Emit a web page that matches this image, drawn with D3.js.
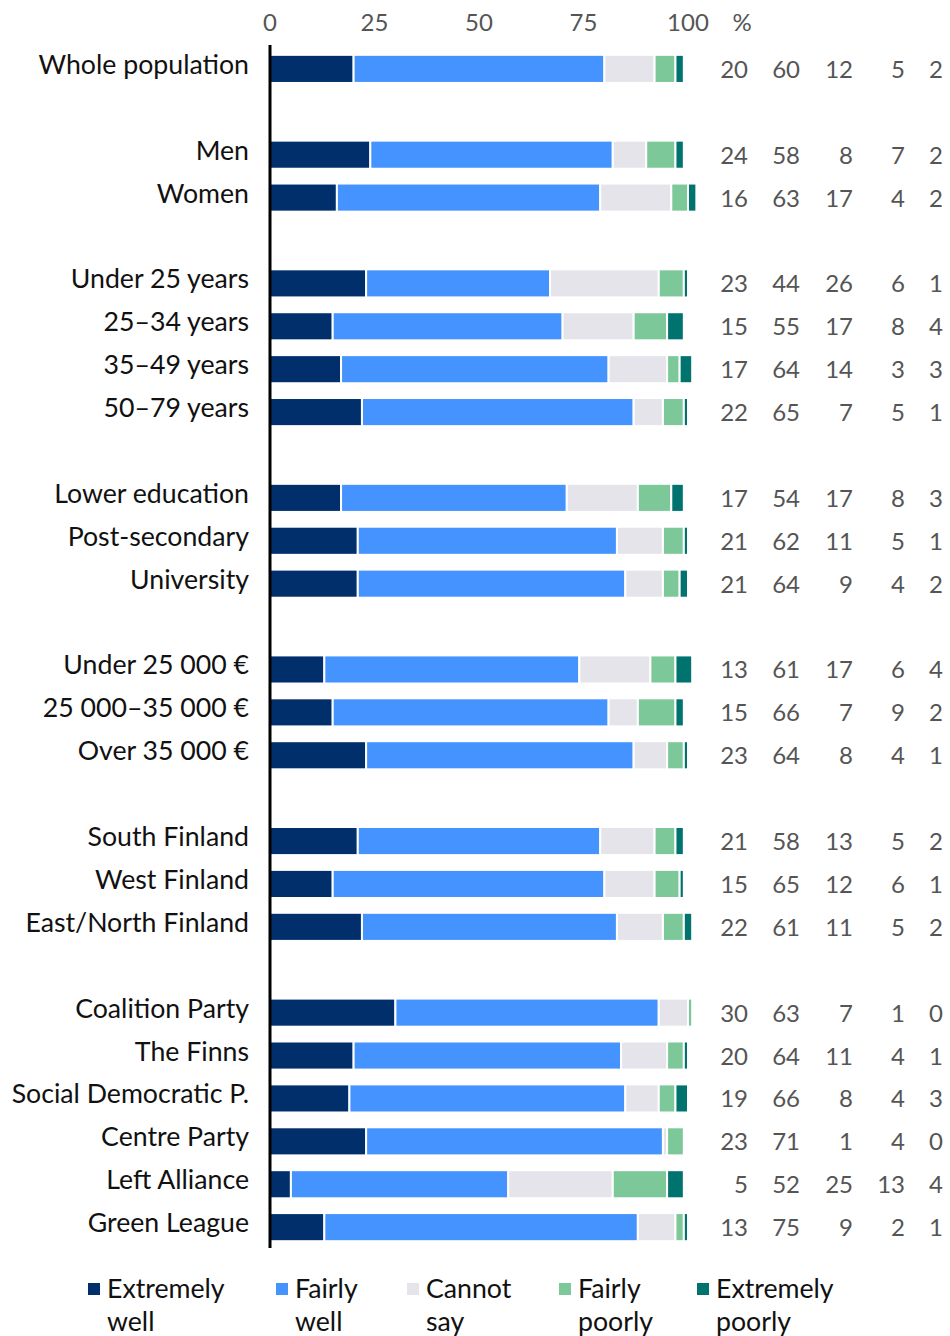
<!DOCTYPE html>
<html>
<head>
<meta charset="utf-8">
<script src="https://cdn.jsdelivr.net/npm/d3@7"></script>
<style>
  body { margin: 0; background: #fff; }
  #graf { width: 950px; height: 1336px; }
  text { font-family: Lato, "Noto Sans", sans-serif; }
</style>
</head>
<body>
<div id="graf"></div>
<script>
// Datos
const categorias = [
  "Whole population", "",
  "Men", "Women", "",
  "Under 25 years", "25–34 years", "35–49 years", "50–79 years", "",
  "Lower education", "Post-secondary", "University", "",
  "Under 25 000 €", "25 000–35 000 €", "Over 35 000 €", "",
  "South Finland", "West Finland", "East/North Finland", "",
  "Coalition Party", "The Finns", "Social Democratic P.", "Centre Party", "Left Alliance", "Green League"
]
const series = ["Extremely well", "Fairly well", "Cannot say", "Fairly poorly", "Extremely poorly"]
const extremelyWell   = [20, null, 24, 16, null, 23, 15, 17, 22, null, 17, 21, 21, null, 13, 15, 23, null, 21, 15, 22, null, 30, 20, 19, 23, 5, 13]
const fairlyWell      = [60, null, 58, 63, null, 44, 55, 64, 65, null, 54, 62, 64, null, 61, 66, 64, null, 58, 65, 61, null, 63, 64, 66, 71, 52, 75]
const cannotSay       = [12, null, 8, 17, null, 26, 17, 14, 7, null, 17, 11, 9, null, 17, 7, 8, null, 13, 12, 11, null, 7, 11, 8, 1, 25, 9]
const fairlyPoorly    = [5, null, 7, 4, null, 6, 8, 3, 5, null, 8, 5, 4, null, 6, 9, 4, null, 5, 6, 5, null, 1, 4, 4, 4, 13, 2]
const extremelyPoorly = [2, null, 2, 2, null, 1, 4, 3, 1, null, 3, 1, 2, null, 4, 2, 1, null, 2, 1, 2, null, 0, 1, 3, 0, 4, 1]
const ticks = [0, 25, 50, 75, 100]
const colores = ["#002f6c", "#4493ff", "#e6e4eb", "#7dc899", "#00736e"]

const valores = [extremelyWell, fairlyWell, cannotSay, fairlyPoorly, extremelyPoorly]

// Dimensiones
const anchoTotal = 950
const altoTotal = 1336

const svg = d3.select("#graf")
  .append("svg")
  .attr("width", anchoTotal)
  .attr("height", altoTotal)

// Escaladores
const x = d3.scaleLinear().domain([0, 100]).range([270, 688])
const filas = categorias.map((c, i) => i)
const y = d3.scaleBand()
  .domain(filas)
  .range([69 - 42.89 / 2, 69 - 42.89 / 2 + 42.89 * categorias.length])
  .paddingInner(0.345)
  .paddingOuter(0.17)

// Eje superior
svg.append("g")
  .selectAll("text")
  .data(ticks)
  .join("text")
  .attr("x", (d) => x(d))
  .attr("y", 31)
  .attr("text-anchor", "middle")
  .attr("fill", "#555")
  .style("font-size", "24px")
  .text((d) => d)

svg.append("text")
  .attr("x", 742)
  .attr("y", 31)
  .attr("text-anchor", "middle")
  .attr("fill", "#555")
  .style("font-size", "24px")
  .text("%")

// Barras apiladas
const filasDatos = filas.filter((i) => extremelyWell[i] != null)

filasDatos.forEach((i) => {
  let acum = 0
  valores.forEach((serie, s) => {
    const v = serie[i]
    const x0 = acum
    acum += v
    if (v <= 0) return
    svg.append("rect")
      .attr("x", x(x0))
      .attr("y", y(i))
      .attr("width", x(x0 + v) - x(x0))
      .attr("height", y.bandwidth())
      .attr("fill", colores[s])
      .attr("stroke", "#fff")
      .attr("stroke-width", 2)
  })
})

// Etiquetas de categorias
svg.append("g")
  .selectAll("text")
  .data(filasDatos)
  .join("text")
  .attr("x", 249)
  .attr("y", (i) => y(i) + y.bandwidth() / 2 + 5)
  .attr("text-anchor", "end")
  .attr("fill", "#111")
  .style("font-size", "26.7px")
  .text((i) => categorias[i])

// Columnas de valores
const colX = [748, 800, 853, 905, 943]
valores.forEach((serie, s) => {
  svg.append("g")
    .selectAll("text")
    .data(filasDatos)
    .join("text")
    .attr("x", colX[s])
    .attr("y", (i) => y(i) + y.bandwidth() / 2 + 9)
    .attr("text-anchor", "end")
    .attr("fill", "#555")
    .style("font-size", "24px")
    .text((i) => serie[i])
})

// Eje vertical
svg.append("line")
  .attr("x1", 270)
  .attr("x2", 270)
  .attr("y1", 45)
  .attr("y2", 1248)
  .attr("stroke", "#000")
  .attr("stroke-width", 3)

// Leyenda
const legX = [88, 276, 407, 559, 697]
const leyenda = svg.append("g")
series.forEach((s, k) => {
  const g = leyenda.append("g").attr("transform", `translate(${legX[k]}, 0)`)
  g.append("rect")
    .attr("x", 0)
    .attr("y", 1283)
    .attr("width", 12)
    .attr("height", 12)
    .attr("fill", colores[k])
  const palabras = s.split(" ")
  g.append("text")
    .attr("x", 19)
    .attr("y", 1298)
    .attr("fill", "#111")
    .style("font-size", "26.7px")
    .selectAll("tspan")
    .data(palabras)
    .join("tspan")
    .attr("x", 19)
    .attr("dy", (d, j) => (j === 0 ? 0 : 33))
    .text((d) => d)
})
</script>
</body>
</html>
